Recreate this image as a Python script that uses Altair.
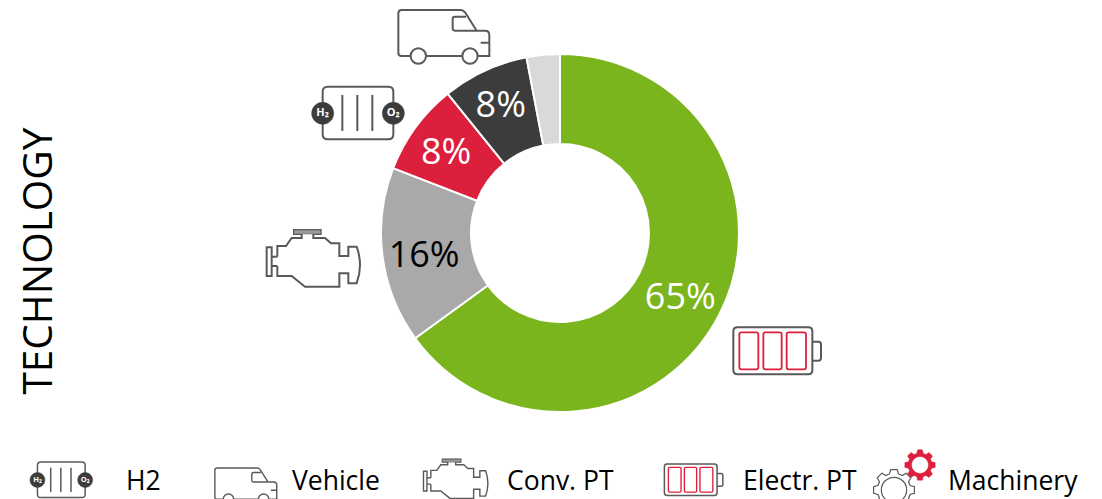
import math
import altair as alt
import pandas as pd

categories = ["Electr. PT", "Conv. PT", "H2", "Vehicle", "Machinery"]
values = [65, 15.9, 8.3, 7.8, 3.0]
labels = ["65%", "16%", "8%", "8%", ""]
fills = ["#7AB51D", "#A9A9A9", "#DC1F3D", "#3C3C3C", "#D9D9D9"]
label_colors = ["#FFFFFF", "#000000", "#FFFFFF", "#FFFFFF", "#FFFFFF"]
legend_names = ["H2", "Vehicle", "Conv. PT", "Electr. PT", "Machinery"]
legend_x = [126, 292, 507, 743, 948]
title_text = "TECHNOLOGY"

FONT = "Open Sans"
LINE = "#595959"
RED = "#DC1F3D"
DARK = "#3C3C3C"
OX, OY = 8, 8  # page margin
CX, CY = 560 - OX, 233 - OY
LABEL_RADIUS = [135, 137, 141, 141]
LABEL_DY = [4, 5, 3, 1]

df = pd.DataFrame({"category": categories, "value": values, "label": labels,
                   "fill": fills, "label_color": label_colors,
                   "rank": range(len(categories))})


def circle(cx, cy, r):
    return f"M{cx + r},{cy} A{r},{r} 0 1 1 {cx - r},{cy} A{r},{r} 0 1 1 {cx + r},{cy} Z"


def rrect(x0, y0, x1, y1, r):
    return (f"M{x0 + r},{y0} H{x1 - r} Q{x1},{y0} {x1},{y0 + r} V{y1 - r} Q{x1},{y1} {x1 - r},{y1} "
            f"H{x0 + r} Q{x0},{y1} {x0},{y1 - r} V{y0 + r} Q{x0},{y0} {x0 + r},{y0} Z")


def gear(cx, cy, ro, ri, teeth):
    pts = []
    step = 2 * math.pi / teeth
    for i in range(teeth):
        a = i * step
        for da, r in [(-0.30, ri), (-0.18, ro), (0.18, ro), (0.30, ri)]:
            t = a + da * step * 1.15
            pts.append((cx + r * math.cos(t), cy + r * math.sin(t)))
    return "M" + " L".join(f"{x:.1f},{y:.1f}" for x, y in pts) + " Z"


VAN = ("M445,40 Q445,30 455,30 H632 Q640,30 645,37 L680,92 H705 Q718,92 718,105 V168 H683 "
       "M637,168 H528 M482,168 H455 Q445,168 445,158 V40 "
       "M648,50 H615 Q608,50 608,57 V85 Q608,92 615,92 H680 M692,128 H718 "
       + circle(660, 168, 23) + " " + circle(505, 168, 23))
CELL = (rrect(218, 260, 430, 418, 15) + " M277,285 V393 M322,285 V393 M367,285 V393")
ENGINE = ("M50,742 H65 V828 H50 Z M65,770 H82 M65,798 H82 "
          "M82,770 V738 H108 L125,714 H155 V702 H132 V690 H212 V702 H190 V714 H225 L243,730 H268 V768 H295 "
          "V740 H320 Q340,795 320,850 H295 V820 H268 V860 H165 L125,828 H82 V798")
ENGINE_CAP = "M132,690 H212 V702 H132 Z"
BATTERY = (rrect(250, 52, 487, 193, 12) + " M487,95 H505 Q513,95 513,103 V143 Q513,152 505,152 H487")
CELLS = " ".join(rrect(a, 67, b, 178, 6) for a, b in [(268, 325), (340, 395), (410, 468)])
GEAR_GREY = gear(732, 540, 62, 50, 8) + " " + circle(732, 540, 38)
GEAR_RED = gear(810, 465, 46, 36, 8)
GEAR_HOLE = circle(810, 465, 24)


def icon(name, path, ox, oy, s=1.0, color=LINE, width=2.0, fill=None):
    kw = dict(shape=path, size=4 * (s / 3) ** 2, opacity=1, strokeWidth=width)
    if fill:
        kw.update(filled=True, fill=fill, stroke=color)
    else:
        kw.update(filled=False, stroke=color)
    return alt.Chart(pd.DataFrame({"icon": [name]})).mark_point(**kw).encode(
        x=alt.value(ox - OX), y=alt.value(oy - OY))


def text(t, x, y, size, color="#000000", weight="normal", align="center", angle=0):
    return alt.Chart(pd.DataFrame({"t": [t]})).mark_text(
        font=FONT, fontSize=size, color=color, fontWeight=weight, align=align,
        baseline="middle", angle=angle).encode(
        x=alt.value(x - OX), y=alt.value(y - OY), text="t:N")


theta = alt.Theta("value:Q", stack=True)
order = alt.Order("rank:Q")

arcs = alt.Chart(df).mark_arc(outerRadius=179, innerRadius=89, stroke="#FFFFFF", strokeWidth=2).encode(
    theta=theta, order=order, x=alt.value(CX), y=alt.value(CY),
    color=alt.Color("fill:N", scale=None, legend=None))

layers = [arcs]
for i, (r, dy) in enumerate(zip(LABEL_RADIUS, LABEL_DY)):
    layers.append(
        alt.Chart(df).transform_calculate(shown=f"datum.rank == {i} ? datum.label : ''").mark_text(
            radius=r, dy=dy, font=FONT, fontSize=36
        ).encode(
            theta=theta, order=order, x=alt.value(CX), y=alt.value(CY), text="shown:N",
            color=alt.Color("label_color:N", scale=None, legend=None)))
layers.append(text(title_text, 40, 261, 40.5, angle=270))


def cell_icon(ox, oy, s, width, tsize):
    out = [icon("h2", CELL, ox, oy, s, width=width)]
    for cx, lab in [(218, "H₂"), (430, "O₂")]:
        out.append(icon("h2dot", circle(cx, 340, 33), ox, oy, s, color=DARK, width=0.5, fill=DARK))
        out.append(text(lab, ox + cx * s / 3, oy + 340 * s / 3, tsize, "#FFFFFF", "bold"))
    return out


def battery_icon(ox, oy, s, width):
    return [icon("battery", BATTERY, ox, oy, s, width=width),
            icon("cells", CELLS, ox, oy, s, color=RED, width=width * 0.9)]


def engine_icon(ox, oy, s, width):
    return [icon("engine", ENGINE, ox, oy, s, width=width),
            icon("cap", ENGINE_CAP, ox, oy, s, width=0.5, fill="#9A9A9A")]


layers += [icon("van", VAN, 250, 0)]
layers += cell_icon(250, 0, 1, 2.0, 11)
layers += engine_icon(250, 0, 1, 2.0)
layers += battery_icon(650, 310, 1, 2.0)

layers += cell_icon(-11.6, 403.5, 0.675, 1.5, 7.5)
layers += [icon("van", VAN, 114, 461.2, 0.68, width=1.4)]
layers += engine_icon(412, 300.6, 0.69, 1.4)
layers += battery_icon(608.8, 452.5, 0.667, 1.5)
layers += [icon("gear", GEAR_GREY, 650, 310, 1, width=1.2),
           icon("gear2", GEAR_RED, 650, 310, 1, color=RED, width=0.5, fill=RED),
           icon("gear3", GEAR_HOLE, 650, 310, 1, color="#FFFFFF", width=0.5, fill="#FFFFFF")]

for name, x in zip(legend_names, legend_x):
    layers.append(text(name, x, 482, 26.5, align="left"))

chart = alt.layer(*layers).resolve_scale(color="independent").properties(
    width=1086, height=491, padding=0,
    autosize=alt.AutoSizeParams(type="none")
).configure_view(stroke=None)

chart.save("out.html", embed_options={"renderer": "svg", "actions": False})
